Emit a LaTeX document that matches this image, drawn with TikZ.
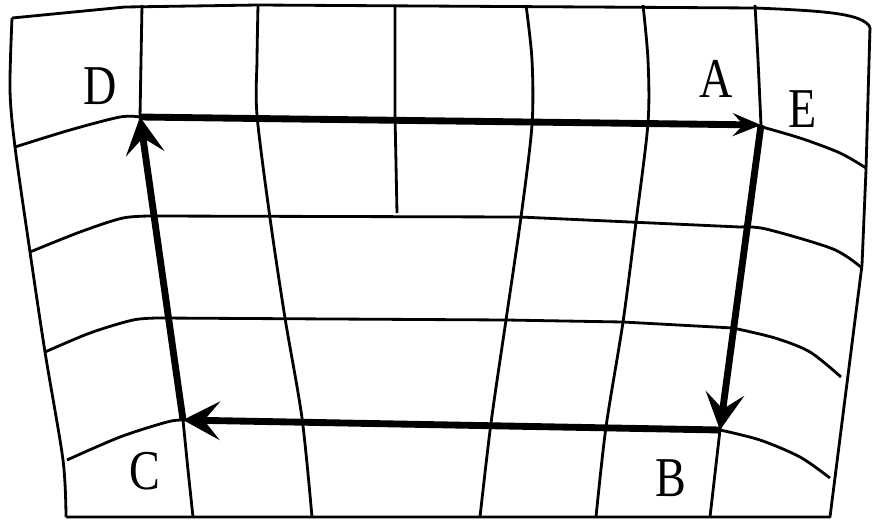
\documentclass[tikz,border=0pt]{standalone}
\usepackage{fontspec}
\setmainfont{Liberation Serif}
\newfontfamily\lblfont[FakeStretch=0.82]{Liberation Serif}
\usetikzlibrary{arrows.meta}

\begin{document}
\begin{tikzpicture}[
    x=0.02cm, y=-0.02cm,
    grid/.style={line width=1.6pt, line join=round},
    loop/.style={line width=3.9pt, line join=miter, -{Stealth[length=21pt, width=22pt, inset=9pt]}},
    lbl/.style={font=\lblfont\fontsize{32}{32}\selectfont, inner sep=0pt}
]
\useasboundingbox (0,0) rectangle (873,521);

% Outer frame
\draw[grid] (12,18) -- (125,7) -- (258,5) -- (755,8) .. controls (830,11) and (862,14) .. (870,27);
\draw[grid] (870,27) -- (866,170) -- (862,265) -- (830,517) -- (66,517);
\draw[grid] plot[smooth] coordinates {(66,517) (63,460) (45,352) (30,252) (15,147) (10,90) (12,18)};

% Horizontal lines
\draw[grid] plot[smooth] coordinates {(15,147) (70,130) (120,117) (140,117)} -- (755,125)
    plot[smooth] coordinates {(755,125) (800,138) (840,153) (866,168)};
\draw[grid] plot[smooth] coordinates {(30,252) (80,232) (123,218) (155,216)} -- (520,217) -- (740,227)
    plot[smooth] coordinates {(740,227) (766,229) (833,249) (862,268)};
\draw[grid] plot[smooth] coordinates {(45,352) (90,333) (133,320) (160,318)} -- (506,320) -- (623,322) -- (733,328)
    plot[smooth] coordinates {(733,328) (775,338) (810,352) (841,377)};
\draw[grid] plot[smooth] coordinates {(67,460) (120,437) (167,422) (183,420)} -- (720,430)
    plot[smooth] coordinates {(720,430) (760,440) (800,457) (830,478)};

% Vertical lines
\draw[grid] (142,5) -- (140,117) -- (183,420) -- (188,470) -- (193,517);
\draw[grid] plot[smooth] coordinates {(258,5) (257,60) (257,115) (270,218) (285,318) (302,418) (312,517)};
\draw[grid] (395,6) -- (395,115) -- (397,213);
\draw[grid] plot[smooth] coordinates {(526,5) (532,60) (532,125) (521,217) (506,320) (491,423) (480,517)};
\draw[grid] plot[smooth] coordinates {(643,5) (648,60) (648,123) (636,222) (623,322) (606,427) (596,517)};
\draw[grid] plot[smooth] coordinates {(755,5) (758,60) (761,125)} -- (720,430) -- (710,517);

% Corners of the loop
\coordinate (D) at (140,117);
\coordinate (A) at (761,125);
\coordinate (B) at (720,430);
\coordinate (C) at (183,420);

\draw[loop, -{Stealth[length=16pt, width=13pt, inset=6pt]}] (D) -- (A);
\draw[loop] (A) -- (B);
\draw[loop] (B) -- (C);
\draw[loop] (C) -- (D);

% Labels
\node[lbl] (lblD) at (100,86) {D};
\node[lbl] (lblA) at (716,79) {A};
\node[lbl] (lblE) at (803,109) {E};
\node[lbl] (lblC) at (145,471) {C};
\node[lbl] (lblB) at (671,478) {B};
\end{tikzpicture}
\end{document}
